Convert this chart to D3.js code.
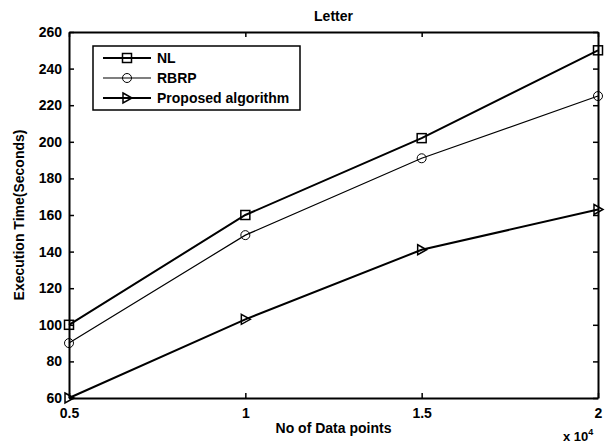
<!DOCTYPE html>
<html lang="en">
<head>
<meta charset="UTF-8">
<title>Letter</title>
<script src="https://d3js.org/d3.v7.min.js"></script>
<style>
  body { margin: 0; background: #fff; }
  svg text { font-family: "Liberation Sans", Arial, sans-serif; fill: #000; }
</style>
</head>
<body>
<svg id="chart" width="605" height="445"></svg>
<script>
// data
var xPoints = [0.5, 1, 1.5, 2];            // x 10^4
var nl = [100, 160, 202, 250];
var rbrp = [90, 149, 191, 225];
var proposed = [60, 103, 141, 163];
var xTicks = [0.5, 1, 1.5, 2];
var yTicks = [60, 80, 100, 120, 140, 160, 180, 200, 220, 240, 260];
var seriesNames = ["NL", "RBRP", "Proposed algorithm"];

var svg = d3.select("#chart"),
    margin = {top: 32, right: 7, bottom: 47, left: 69},
    width = 605 - margin.left - margin.right,
    height = 445 - margin.top - margin.bottom;

var g = svg.append("g").attr("transform", "translate(" + margin.left + "," + margin.top + ")");

var x = d3.scaleLinear().domain([0.5, 2]).range([0, width]);
var y = d3.scaleLinear().domain([60, 260]).range([height, 0]);

// axes, matlab style: ticks pointing inward on all four sides
var fmt = function (d) { return d; };
var axBottom = g.append("g").attr("transform", "translate(0," + height + ")")
    .call(d3.axisBottom(x).tickValues(xTicks).tickSizeInner(-5).tickSizeOuter(0).tickPadding(7).tickFormat(fmt));
var axLeft = g.append("g")
    .call(d3.axisLeft(y).tickValues(yTicks).tickSizeInner(-5).tickSizeOuter(0).tickPadding(7).tickFormat(fmt));
var axTop = g.append("g")
    .call(d3.axisTop(x).tickValues(xTicks).tickSizeInner(-5).tickSizeOuter(0).tickFormat(""));
var axRight = g.append("g").attr("transform", "translate(" + width + ",0)")
    .call(d3.axisRight(y).tickValues(yTicks).tickSizeInner(-5).tickSizeOuter(0).tickFormat(""));

[axBottom, axLeft, axTop, axRight].forEach(function (a) {
    a.select(".domain").attr("stroke", "#000").attr("stroke-width", 2);
    a.selectAll(".tick line").attr("stroke", "#000").attr("stroke-width", 1.5);
    a.selectAll("text").style("font-size", "14px").style("font-weight", "bold").attr("fill", "#000");
});
axBottom.selectAll("text").attr("dy", "0.9em");

// lines
var line = d3.line().x(function (d, i) { return x(xPoints[i]); }).y(function (d) { return y(d); });

var series = [
    {name: seriesNames[0], values: nl, width: 2, marker: "square"},
    {name: seriesNames[1], values: rbrp, width: 1.2, marker: "circle"},
    {name: seriesNames[2], values: proposed, width: 2, marker: "triangle"}
];

function drawMarker(sel, type, cx, cy) {
    if (type === "square") {
        sel.append("rect").attr("x", cx - 4.5).attr("y", cy - 4.5).attr("width", 9).attr("height", 9)
            .attr("fill", "none").attr("stroke", "#000").attr("stroke-width", 1.5);
    } else if (type === "circle") {
        sel.append("circle").attr("cx", cx).attr("cy", cy).attr("r", 4.5)
            .attr("fill", "none").attr("stroke", "#000").attr("stroke-width", 1);
    } else {
        sel.append("path")
            .attr("d", "M" + (cx - 4) + "," + (cy - 5) + "L" + (cx + 5) + "," + cy + "L" + (cx - 4) + "," + (cy + 5) + "Z")
            .attr("fill", "none").attr("stroke", "#000").attr("stroke-width", 1.5);
    }
}

series.forEach(function (s) {
    g.append("path").datum(s.values).attr("d", line)
        .attr("fill", "none").attr("stroke", "#000").attr("stroke-width", s.width);
    var mg = g.append("g");
    s.values.forEach(function (v, i) {
        drawMarker(mg, s.marker, x(xPoints[i]), y(v));
    });
});

// legend
var legend = g.append("g").attr("transform", "translate(24,14)");
legend.append("rect").attr("width", 207).attr("height", 64)
    .attr("fill", "#fff").attr("stroke", "#000").attr("stroke-width", 1.5);
series.forEach(function (s, i) {
    var ly = 12 + i * 20;
    legend.append("line").attr("x1", 10).attr("x2", 58).attr("y1", ly).attr("y2", ly)
        .attr("stroke", "#000").attr("stroke-width", s.width);
    drawMarker(legend, s.marker, 34, ly);
    legend.append("text").attr("x", 64).attr("y", ly).attr("dy", "0.35em")
        .style("font-size", "14px").style("font-weight", "bold").text(s.name);
});

// title and labels
svg.append("text").attr("x", margin.left + width / 2).attr("y", 21).attr("text-anchor", "middle")
    .style("font-size", "14px").style("font-weight", "bold").text("Letter");
svg.append("text").attr("x", margin.left + width / 2).attr("y", 433).attr("text-anchor", "middle")
    .style("font-size", "14px").style("font-weight", "bold").text("No of Data points");
svg.append("text").attr("transform", "translate(24," + (margin.top + height / 2) + ") rotate(-90)")
    .attr("text-anchor", "middle").style("font-size", "14px").style("font-weight", "bold")
    .text("Execution Time(Seconds)");
var mult = svg.append("text").attr("x", 563).attr("y", 441).style("font-size", "13px").style("font-weight", "bold");
mult.append("tspan").text("x 10");
mult.append("tspan").attr("dy", -6).style("font-size", "9px").text("4");
</script>
</body>
</html>
